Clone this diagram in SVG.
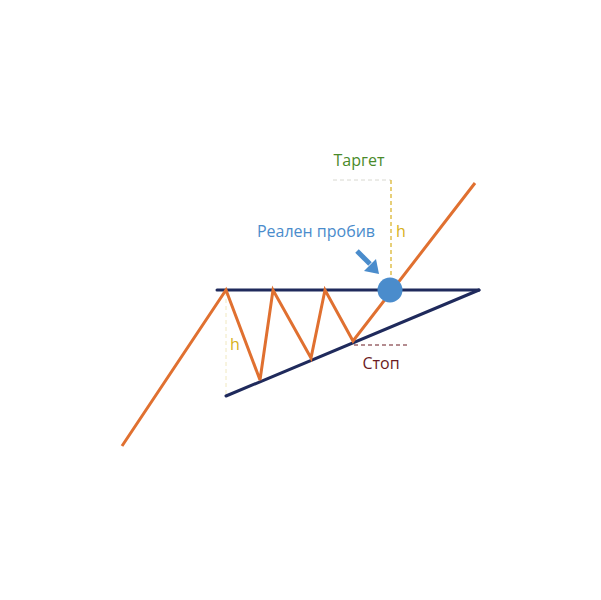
<svg xmlns="http://www.w3.org/2000/svg" width="601" height="600" viewBox="0 0 601 600">
<style>
.lbl{font-family:"Open Sans","Noto Sans",sans-serif;font-size:16px}
.navy{stroke:#1f2a5c;stroke-width:3;fill:none;stroke-linecap:round}
.or{stroke:#e07030;stroke-width:3;fill:none;stroke-linejoin:miter}
</style>
<rect width="601" height="600" fill="#fff"/>
<g id="connectors">
<line x1="333" y1="180" x2="391" y2="180" stroke="#d8d8d0" stroke-width="1" stroke-dasharray="4,3"/>
<line x1="391" y1="180" x2="391" y2="278" stroke="#d8b020" stroke-width="1.2" stroke-dasharray="4,3"/>
<line x1="226" y1="292" x2="226" y2="394" stroke="#f0e8c0" stroke-width="1" stroke-dasharray="4,3"/>
<line x1="354" y1="345" x2="408" y2="345" stroke="#6b1a22" stroke-width="1.2" stroke-dasharray="4,3"/>
</g>
<g id="resistance"><line class="navy" x1="217" y1="290" x2="479" y2="290"/></g>
<g id="support"><line class="navy" x1="226" y1="396" x2="479" y2="290"/></g>
<g id="price"><polyline class="or" points="122,446 226,290 260,380 273,290 311,358 325,290 353,341 475,183"/></g>
<g id="breakout"><circle cx="390" cy="290" r="12.5" fill="#4a8ccc"/></g>
<g id="arrow">
<line x1="357" y1="251" x2="370" y2="264" stroke="#4a8ccc" stroke-width="5"/>
<polygon points="379,274 364,271 376,259" fill="#4a8ccc"/>
</g>
<g id="labels">
<text class="lbl" x="359" y="166" text-anchor="middle" fill="#4a8a2a">Таргет</text>
<text class="lbl" x="316" y="237" text-anchor="middle" fill="#4a8ccc">Реален пробив</text>
<text class="lbl" x="396" y="237" fill="#d8b020">h</text>
<text class="lbl" x="230" y="350" fill="#d8b020">h</text>
<text class="lbl" x="381" y="369" text-anchor="middle" fill="#6b1a22">Стоп</text>
</g>
</svg>
